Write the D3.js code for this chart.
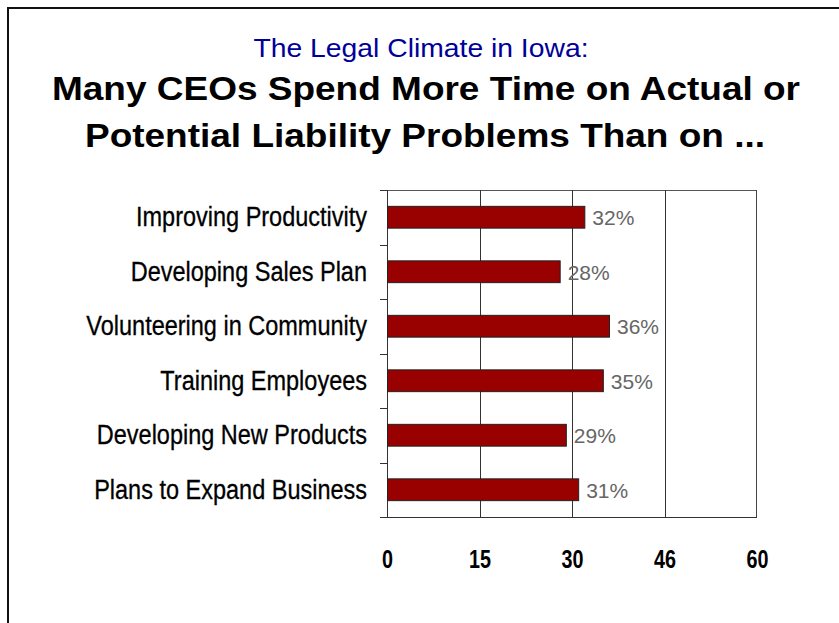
<!DOCTYPE html>
<meta charset="utf-8">
<style>
body { margin: 0; background: #fff; }
svg { display: block; }
.cat { font-family: "Liberation Sans", Arial, sans-serif; font-size: 27px; fill: #000; stroke: #000; stroke-width: 0.3px; }
.val { font-family: "Liberation Sans", Arial, sans-serif; font-size: 21px; fill: #666; }
.x.axis text { font-family: "Liberation Sans", Arial, sans-serif; font-weight: bold; font-size: 26px; fill: #000; }
</style>
<body>
<script src="https://cdn.jsdelivr.net/npm/d3@7"></script>
<script>

// chart data
var categories = ["Improving Productivity", "Developing Sales Plan", "Volunteering in Community",
  "Training Employees", "Developing New Products", "Plans to Expand Business"];
var values = [32, 28, 36, 35, 29, 31];
var tickValues = [0, 15, 30, 45, 60];
var tickLabels = ["0", "15", "30", "46", "60"];

var W = 839, H = 623;
var margin = {top: 190, left: 387, right: 82, bottom: 106};
var width = W - margin.left - margin.right;
var height = H - margin.top - margin.bottom;

var svg = d3.select("body").append("svg")
  .attr("width", W)
  .attr("height", H);

// outer frame
svg.append("rect")
  .attr("x", 8).attr("y", 8)
  .attr("width", 900).attr("height", 700)
  .attr("fill", "none")
  .attr("stroke", "#111")
  .attr("stroke-width", 2);

// titles
svg.append("text")
  .attr("x", 421).attr("y", 57)
  .attr("text-anchor", "middle")
  .attr("textLength", 335).attr("lengthAdjust", "spacingAndGlyphs")
  .style("font-family", "'Liberation Sans', Arial, sans-serif")
  .style("font-size", "25px")
  .style("fill", "#000099")
  .text("The Legal Climate in Iowa:");

svg.append("text")
  .attr("x", 426).attr("y", 100)
  .attr("text-anchor", "middle")
  .attr("textLength", 748).attr("lengthAdjust", "spacingAndGlyphs")
  .style("font-family", "'Liberation Sans', Arial, sans-serif")
  .style("font-weight", "bold")
  .style("font-size", "34px")
  .text("Many CEOs Spend More Time on Actual or");

svg.append("text")
  .attr("x", 425).attr("y", 147)
  .attr("text-anchor", "middle")
  .attr("textLength", 680).attr("lengthAdjust", "spacingAndGlyphs")
  .style("font-family", "'Liberation Sans', Arial, sans-serif")
  .style("font-weight", "bold")
  .style("font-size", "34px")
  .text("Potential Liability Problems Than on ...");

var g = svg.append("g")
  .attr("transform", "translate(" + margin.left + "," + margin.top + ")");

var x = d3.scaleLinear().domain([0, 60]).range([0, width]);
var y = d3.scaleBand().domain(categories).range([0, height]).paddingInner(0.6).paddingOuter(0.3);
var yb = d3.scaleBand().domain(categories).range([0, height]);

// plot frame + gridlines
g.append("line").attr("x1", 0).attr("x2", width).attr("y1", 0.5).attr("y2", 0.5)
  .attr("stroke", "#555");
g.append("line").attr("x1", width - 0.5).attr("x2", width - 0.5).attr("y1", 0).attr("y2", height)
  .attr("stroke", "#444");
g.selectAll(".grid").data(tickValues.slice(1, -1)).enter().append("line")
  .attr("class", "grid")
  .attr("x1", function(d) { return Math.round(x(d)) + 0.5; })
  .attr("x2", function(d) { return Math.round(x(d)) + 0.5; })
  .attr("y1", 0).attr("y2", height)
  .attr("stroke", "#333");

// left axis line and category separators
g.append("line").attr("x1", 0.5).attr("x2", 0.5).attr("y1", 0).attr("y2", height)
  .attr("stroke", "#333");
var seps = [0].concat(categories.map(function(c) { return yb(c) + yb.bandwidth(); }));
g.selectAll(".sep").data(seps).enter().append("line")
  .attr("class", "sep")
  .attr("x1", -7).attr("x2", 0)
  .attr("y1", function(d) { return Math.round(d) + 0.5; })
  .attr("y2", function(d) { return Math.round(d) + 0.5; })
  .attr("stroke", "#333");

// bottom axis
var xAxis = d3.axisBottom(x)
  .tickValues(tickValues)
  .tickSize(0)
  .tickPadding(33)
  .tickFormat(function(d, i) { return tickLabels[i]; });

var ax = g.append("g")
  .attr("class", "x axis")
  .attr("transform", "translate(0," + height + ")")
  .call(xAxis);
ax.select(".domain").remove();
ax.selectAll(".tick text").attr("transform", "scale(0.76,1)");
g.append("line").attr("x1", -7).attr("x2", width).attr("y1", height + 0.5).attr("y2", height + 0.5)
  .attr("stroke", "#333");

// bars
g.selectAll(".bar").data(values).enter().append("rect")
  .attr("class", "bar")
  .attr("x", 0.5)
  .attr("y", function(d, i) { return y(categories[i]); })
  .attr("width", function(d) { return x(d); })
  .attr("height", y.bandwidth())
  .attr("fill", "#990000")
  .attr("stroke", "#222")
  .attr("stroke-width", 1);

// value labels
g.selectAll(".val").data(values).enter().append("text")
  .attr("class", "val")
  .attr("x", function(d) { return x(d) + 8; })
  .attr("y", function(d, i) { return yb(categories[i]) + yb.bandwidth() / 2 + 8; })
  .text(function(d) { return d + "%"; });

// category labels (condensed face)
g.selectAll(".cat").data(categories).enter().append("text")
  .attr("class", "cat")
  .attr("transform", function(d) {
    return "translate(-20," + (yb(d) + yb.bandwidth() / 2 + 9) + ") scale(0.87,1)";
  })
  .attr("text-anchor", "end")
  .text(function(d) { return d; });

</script>
</body>
